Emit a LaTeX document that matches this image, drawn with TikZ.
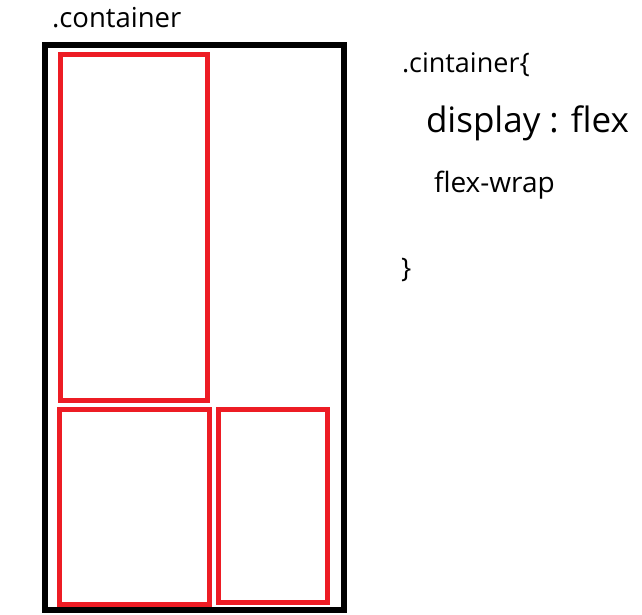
\documentclass[tikz,border=0pt]{standalone}
\usepackage{fontspec}
\setmainfont{Open Sans}
\definecolor{paintred}{HTML}{ED1C24}
\tikzset{
  frame/.style={draw=black, line width=6pt, inner sep=0pt, outer sep=0pt},
  item/.style={draw=paintred, line width=5pt, inner sep=0pt, outer sep=0pt},
  txt/.style={anchor=base west, inner sep=0pt, outer sep=0pt, text=black}
}
\begin{document}
\begin{tikzpicture}[x=1pt,y=-1pt]
\useasboundingbox[fill=white] (0,0) rectangle (642,614);
% container
\node[frame, minimum width=299.5pt, minimum height=564.5pt] (cont) at (194.25,327.25) {};
% items
\node[item, minimum width=147pt, minimum height=346pt] (i1) at (134,227.5) {};
\node[item, minimum width=150pt, minimum height=195pt] (i2) at (134.5,507) {};
\node[item, minimum width=109pt, minimum height=193pt] (i3) at (273,506) {};
% texts
\node[txt, font=\fontsize{27.5}{32}\selectfont] (lbl) at (52,27.5) {.container};
\node[txt, font=\fontsize{27}{32}\selectfont] (c1) at (402,72) {.cintainer\{};
\node[txt, font=\fontsize{35}{40}\selectfont] (c2) at (426,132) {display : flex};
\node[txt, font=\fontsize{28}{32}\selectfont] (c3) at (434,192) {flex-wrap};
\node[txt, font=\fontsize{27}{32}\selectfont] (c4) at (401,277) {\}};
\end{tikzpicture}
\end{document}
